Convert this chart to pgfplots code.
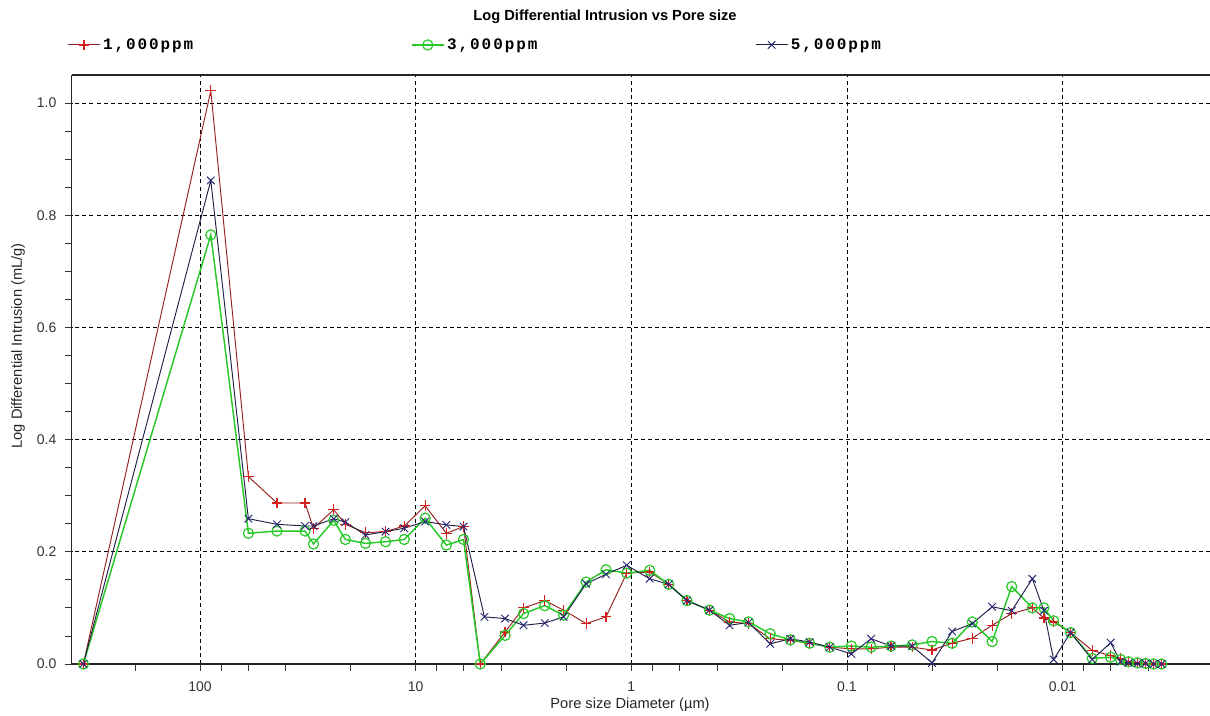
\documentclass[border=0pt]{standalone}
\usepackage{pgfplots}
\pgfplotsset{compat=1.18}
\usepackage{pgfplotstable}
\usepackage{fontspec}
\setmainfont{Liberation Sans}
\newfontfamily\legfont[LetterSpace=12]{Liberation Mono}
\definecolor{c1line}{RGB}{150,30,30}
\definecolor{c1mark}{RGB}{215,30,30}
\definecolor{c2line}{RGB}{40,200,40}
\definecolor{c3line}{RGB}{30,30,70}
\definecolor{c3mark}{RGB}{40,40,120}

\pgfplotstableread{
x y
348 0
89.2 1.022
59.7 0.334
44.0 0.287
32.6 0.287
29.8 0.242
24.0 0.275
21.2 0.249
17.1 0.234
13.8 0.236
11.3 0.246
9.04 0.282
7.21 0.233
6.0 0.245
5.02 0
3.85 0.057
3.16 0.100
2.52 0.113
2.06 0.096
1.62 0.072
1.31 0.084
1.05 0.162
0.822 0.164
0.671 0.142
0.552 0.113
0.434 0.096
0.350 0.075
0.286 0.072
0.227 0.045
0.183 0.042
0.149 0.037
0.120 0.030
0.0953 0.027
0.0772 0.027
0.0624 0.030
0.0498 0.030
0.0403 0.025
0.0325 0.037
0.0262 0.046
0.0212 0.069
0.0172 0.090
0.0138 0.100
0.0122 0.082
0.0110 0.075
0.00918 0.056
0.00728 0.024
0.00598 0.015
0.00538 0.010
0.00494 0.004
0.00449 0.002
0.00412 0.001
0.00378 0
0.00347 0
}\dataA

\pgfplotstableread{
x y
348 0
89.2 0.765
59.7 0.233
44.0 0.237
32.6 0.237
29.8 0.214
24.0 0.256
21.2 0.222
17.1 0.215
13.8 0.218
11.3 0.222
9.04 0.260
7.21 0.212
6.0 0.222
5.02 0
3.85 0.051
3.16 0.090
2.52 0.104
2.06 0.087
1.62 0.146
1.31 0.168
1.05 0.162
0.822 0.167
0.671 0.142
0.552 0.113
0.434 0.096
0.350 0.081
0.286 0.075
0.227 0.054
0.183 0.043
0.149 0.037
0.120 0.030
0.0953 0.032
0.0772 0.030
0.0624 0.032
0.0498 0.034
0.0403 0.040
0.0325 0.037
0.0262 0.075
0.0212 0.040
0.0172 0.138
0.0138 0.100
0.0122 0.100
0.0110 0.077
0.00918 0.056
0.00728 0.010
0.00598 0.012
0.00538 0.008
0.00494 0.004
0.00449 0.002
0.00412 0.001
0.00378 0
0.00347 0
}\dataB

\pgfplotstableread{
x y
348 0
89.2 0.862
59.7 0.259
44.0 0.249
32.6 0.246
29.8 0.246
24.0 0.259
21.2 0.253
17.1 0.230
13.8 0.236
11.3 0.242
9.04 0.254
7.21 0.248
6.0 0.245
4.8 0.084
3.85 0.081
3.16 0.069
2.52 0.073
2.06 0.084
1.62 0.143
1.31 0.160
1.05 0.176
0.822 0.152
0.671 0.142
0.552 0.113
0.434 0.096
0.350 0.069
0.286 0.074
0.227 0.036
0.183 0.045
0.149 0.039
0.120 0.030
0.0953 0.018
0.0772 0.045
0.0624 0.032
0.0498 0.032
0.0403 0.002
0.0325 0.058
0.0262 0.072
0.0212 0.102
0.0172 0.095
0.0138 0.152
0.0122 0.095
0.0110 0.008
0.00918 0.056
0.00728 0.008
0.00598 0.038
0.00538 0.004
0.00494 0.002
0.00449 0.001
0.00412 0.001
0.00378 0
0.00347 0
}\dataC

\begin{document}
\begin{tikzpicture}
\useasboundingbox (-53.8pt,-39pt) rectangle (853.7pt,498pt);
\begin{axis}[
  at={(0,0)}, anchor=south west,
  scale only axis, width=853.7pt, height=441.75pt,
  xmode=log, x dir=reverse,
  xmin=0.00207, xmax=394,
  ymin=0, ymax=1.05,
  axis x line=bottom, axis y line=left,
  axis line style={-, line width=0.8pt, black!85},
  every outer x axis line/.append style={-},
  every outer y axis line/.append style={-},
  tick align=outside,
  major tick length=5pt, minor tick length=5pt,
  tick style={black!80, line width=0.6pt},
  xtick={0.01,0.1,1,10,100},
  xticklabels={0.01,0.1,1,10,100},
  minor xtick={0.004,0.006,0.008,0.02,0.04,0.06,0.08,0.2,0.4,0.6,0.8,2,4,6,8,20,40,60,80,200},
  ytick={0,0.2,0.4,0.6,0.8,1.0},
  minor ytick={0.05,0.1,0.15,0.25,0.3,0.35,0.45,0.5,0.55,0.65,0.7,0.75,0.85,0.9,0.95},
  yticklabel style={xshift=-3pt, /pgf/number format/.cd, fixed, fixed zerofill, precision=1},
  /pgf/number format/assume math mode=true,
  ticklabel style={font=\fontsize{10.5pt}{12pt}\selectfont, text=black!80},
  xticklabel style={yshift=-4.5pt},
  grid=major,
  major grid style={black, line width=0.6pt, dash pattern=on 3pt off 2.3pt},
  xlabel={Pore size Diameter (µm)},
  xlabel style={at={(axis description cs:0.4905,0)}, anchor=center, yshift=-30.75pt, font=\fontsize{11pt}{13pt}\selectfont, text=black!85},
  ylabel={Log Differential Intrusion (mL/g)},
  ylabel style={at={(axis description cs:-0.0472,0.54)}, anchor=center, font=\fontsize{11pt}{13pt}\selectfont, text=black!85},
  title={Log Differential Intrusion vs Pore size},
  title style={at={(axis description cs:0.4685,1.085)}, anchor=center, yshift=0pt, font=\bfseries\fontsize{11pt}{13pt}\selectfont},
  clip=false,
  legend columns=3,
  legend style={draw=none, fill=none, inner sep=0pt, at={(axis description cs:-0.004,1.051)}, anchor=west,
    font=\legfont\bfseries\fontsize{12pt}{14pt}\selectfont,
    /tikz/every even column/.append style={column sep=158pt}},
  legend image code/.code={\draw[mark repeat=2,mark phase=2,#1] plot coordinates {(0pt,0pt)(12pt,0pt)(24pt,0pt)};},
]
\draw[line width=0.8pt, black!85] (rel axis cs:0,1) -- (rel axis cs:1,1);
\addplot[c1line, line width=0.7pt, mark=+, mark size=4pt, mark options={c1mark, line width=0.9pt}] table {\dataA};
\addlegendentry{\makebox[71pt][l]{1,000ppm}}
\addplot[c2line, line width=1.1pt, mark=o, mark size=3.8pt, mark options={c2line, line width=0.9pt}] table {\dataB};
\addlegendentry{\makebox[71pt][l]{3,000ppm}}
\addplot[c3line, line width=0.7pt, mark=x, mark size=4pt, mark options={c3mark, line width=0.7pt}] table {\dataC};
\addlegendentry{\makebox[71pt][l]{5,000ppm}}
\end{axis}
\end{tikzpicture}
\end{document}
